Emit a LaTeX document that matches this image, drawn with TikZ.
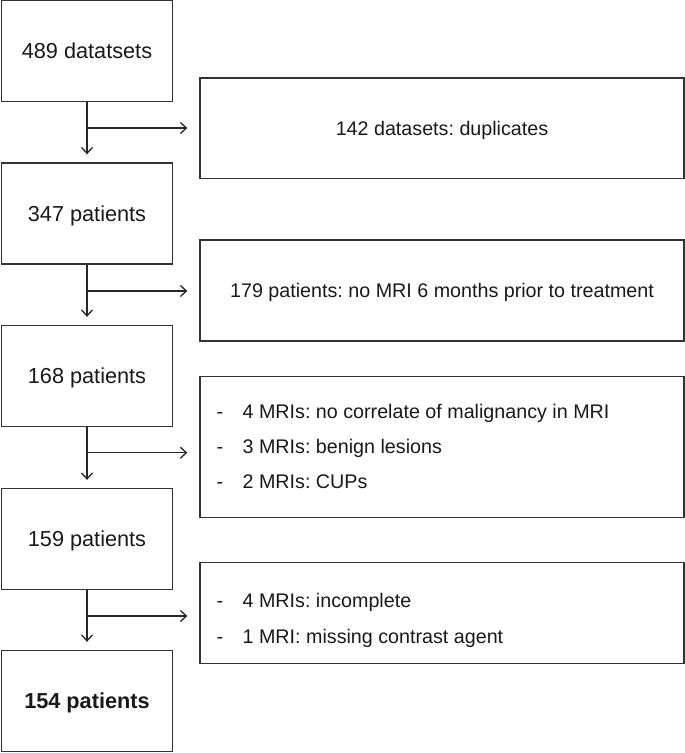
\documentclass[tikz,border=0pt]{standalone}
\usepackage{fontspec}
\setmainfont{Liberation Sans}
\usetikzlibrary{arrows.meta}
\frenchspacing
\begin{document}
\frenchspacing
\begin{tikzpicture}[x=1pt,y=-1pt,
  line width=1.3pt,
  lbox/.style={draw=black!80, minimum width=171pt, minimum height=101pt, inner sep=0pt,
    font=\fontsize{21.7pt}{26pt}\selectfont, text height=15.5pt, text depth=0pt, text=black!90},
  rbox/.style={draw=black!80, minimum width=484pt, inner sep=0pt,
    font=\fontsize{19.7pt}{24pt}\selectfont, text height=14.1pt, text depth=0pt, text=black!90},
  item/.style={anchor=base west, inner sep=0pt, font=\fontsize{19.7pt}{24pt}\selectfont, text=black!90},
  conn/.style={draw=black!85, -{Straight Barb[length=6pt,width=11pt,line width=1.3pt]}}
]
\useasboundingbox (0,0) rectangle (685,753);
% left column
\node[lbox] (b1) at (87,51) {489 datatsets};
\node[lbox] (b2) at (87,213.5) {347 patients};
\node[lbox] (b3) at (87,376) {168 patients};
\node[lbox] (b4) at (87,539) {159 patients};
\node[lbox, font=\fontsize{21.7pt}{26pt}\selectfont\bfseries] (b5) at (87,701) {154 patients};
% right column
\node[rbox, minimum height=100.7pt] (r1) at (442,128.3) {142 datasets: duplicates};
\node[rbox, minimum height=101pt] (r2) at (442,290.5) {179 patients: no MRI 6 months prior to treatment};
\node[rbox, minimum height=141.4pt] (r3) at (442,447) {};
\node[rbox, minimum height=100.6pt] (r4) at (442,613) {};
% items
\node[item] (d31) at (216,418.7) {-};
\node[item] (t31) at (242,418.7) {4 MRIs: no correlate of malignancy in MRI};
\node[item] (d32) at (216,453.2) {-};
\node[item] (t32) at (242,453.2) {3 MRIs: benign lesions};
\node[item] (d33) at (216,488) {-};
\node[item] (t33) at (242,488) {2 MRIs: CUPs};
\node[item] (d41) at (216,607) {-};
\node[item] (t41) at (242,607) {4 MRIs: incomplete};
\node[item] (d42) at (216,643) {-};
\node[item] (t42) at (242,643) {1 MRI: missing contrast agent};
% junctions
\coordinate (j1) at (87,128);
\coordinate (j2) at (87,291);
\coordinate (j3) at (87,452.7);
\coordinate (j4) at (87,616);
% vertical arrows
\draw[conn, shorten >=8pt] (b1) -- (b2);
\draw[conn, shorten >=8pt] (b2) -- (b3);
\draw[conn, shorten >=8pt] (b3) -- (b4);
\draw[conn, shorten >=8pt] (b4) -- (b5);
% branches
\draw[conn, shorten >=12pt] (j1) -- (j1 -| r1.west);
\draw[conn, shorten >=12pt] (j2) -- (j2 -| r2.west);
\draw[conn, shorten >=12pt] (j3) -- (j3 -| r3.west);
\draw[conn, shorten >=12pt] (j4) -- (j4 -| r4.west);
\end{tikzpicture}
\end{document}
